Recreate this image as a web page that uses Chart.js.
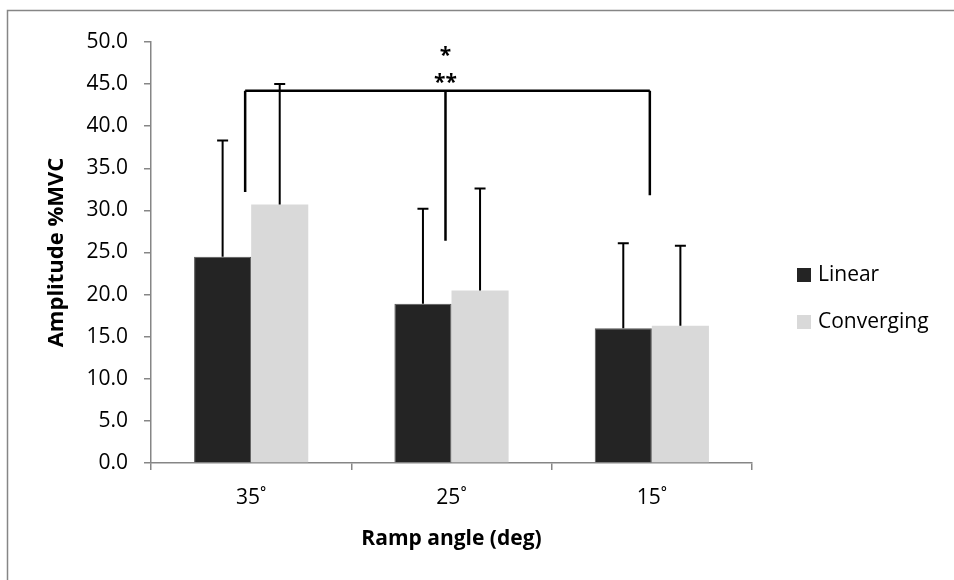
<!DOCTYPE html>
<html>
<head>
<meta charset="utf-8">
<script src="https://cdn.jsdelivr.net/npm/chart.js@4.4.1/dist/chart.umd.min.js"></script>
<style>
  html, body { margin: 0; padding: 0; background: #fff; overflow: hidden; }
  canvas { display: block; }
</style>
</head>
<body>
<canvas id="myChart" width="954" height="580"></canvas>
<script>
'use strict';

// ***** DATA *****
let categories = ['35˚', '25˚', '15˚'];
let linearMeans = [24.5, 18.9, 16.0];
let convergingMeans = [30.7, 20.5, 16.3];
let linearErrTop = [38.3, 30.2, 26.1];
let convergingErrTop = [45.0, 32.6, 25.8];

// significance bracket (x in category units, y in %MVC)
let bracketX = [-0.03, 0.97, 1.99];
let bracketTop = 44.2;
let bracketEnds = [32.2, 26.4, 31.8];
let starLabels = ['*', '**'];
let starBaselines = [47.6, 44.4];

let fontName = '"Open Sans", "Liberation Sans", sans-serif';
let axisGrey = '#868686';

// **** PLUGINS ****
let frame = {
  id: 'frame',
  beforeDraw(chart) {
    let c = chart.ctx;
    c.save();
    c.fillStyle = '#fff';
    c.fillRect(0, 0, chart.width, chart.height);
    c.strokeStyle = axisGrey;
    c.lineWidth = 1.5;
    c.beginPath();
    c.moveTo(7.5, chart.height + 5);
    c.lineTo(7.5, 10.5);
    c.lineTo(chart.width + 5, 10.5);
    c.stroke();
    c.restore();
  }
};

let errorBars = {
  id: 'errorBars',
  afterDatasetsDraw(chart) {
    let c = chart.ctx;
    let ys = chart.scales.y;
    let tops = [linearErrTop, convergingErrTop];
    c.save();
    c.strokeStyle = '#000';
    c.lineWidth = 2;
    for (let d = 0; d < chart.data.datasets.length; d++) {
      let meta = chart.getDatasetMeta(d);
      for (let i = 0; i < meta.data.length; i++) {
        let bar = meta.data[i];
        let yTop = ys.getPixelForValue(tops[d][i]);
        c.beginPath();
        c.moveTo(bar.x, bar.y);
        c.lineTo(bar.x, yTop);
        c.moveTo(bar.x - 5.5, yTop);
        c.lineTo(bar.x + 5.5, yTop);
        c.stroke();
      }
    }
    c.restore();
  }
};

let bracket = {
  id: 'bracket',
  afterDatasetsDraw(chart) {
    let c = chart.ctx;
    let xs = chart.scales.x;
    let ys = chart.scales.y;
    let x0 = xs.getPixelForValue(0);
    let w = xs.getPixelForValue(1) - x0;
    let px = bracketX.map(v => x0 + v * w);
    let top = ys.getPixelForValue(bracketTop);
    c.save();
    c.strokeStyle = '#000';
    c.lineWidth = 2.5;
    c.beginPath();
    c.moveTo(px[0], top);
    c.lineTo(px[2], top);
    for (let i = 0; i < px.length; i++) {
      c.moveTo(px[i], top);
      c.lineTo(px[i], ys.getPixelForValue(bracketEnds[i]));
    }
    c.stroke();
    c.fillStyle = '#000';
    c.font = 'bold 21px ' + fontName;
    c.textAlign = 'center';
    c.textBaseline = 'alphabetic';
    for (let i = 0; i < starLabels.length; i++) {
      c.fillText(starLabels[i], px[1], ys.getPixelForValue(starBaselines[i]));
    }
    c.restore();
  }
};

let sideLegend = {
  id: 'sideLegend',
  afterDraw(chart) {
    let c = chart.ctx;
    let sets = chart.data.datasets;
    c.save();
    c.font = '21px ' + fontName;
    c.textBaseline = 'middle';
    c.textAlign = 'left';
    for (let i = 0; i < sets.length; i++) {
      let yMid = 275 + i * 47;
      c.fillStyle = sets[i].backgroundColor;
      c.fillRect(797, yMid - 7, 14, 14);
      c.fillStyle = '#000';
      c.fillText(sets[i].label, 818, yMid);
    }
    c.restore();
  }
};

// **** CHART ****
let ctx = document.getElementById('myChart');

new Chart(ctx, {
  type: 'bar',
  data: {
    labels: categories,
    datasets: [
      {
        label: 'Linear',
        data: linearMeans,
        backgroundColor: '#242424',
        borderColor: '#555',
        borderWidth: 1,
        categoryPercentage: 0.57,
        barPercentage: 1
      },
      {
        label: 'Converging',
        data: convergingMeans,
        backgroundColor: '#d9d9d9',
        borderWidth: 0,
        categoryPercentage: 0.57,
        barPercentage: 1
      }
    ]
  },
  options: {
    responsive: false,
    animation: false,
    devicePixelRatio: 1,
    layout: { padding: { left: 0, right: 202, top: 42, bottom: 0 } },
    plugins: {
      legend: { display: false },
      tooltip: { enabled: false }
    },
    scales: {
      x: {
        grid: { offset: true, drawOnChartArea: false, color: axisGrey, tickLength: 7, lineWidth: 1.5 },
        border: { color: axisGrey, width: 1.5 },
        ticks: { color: '#000', font: { family: fontName, size: 21 }, padding: 15 },
        title: {
          display: true,
          text: 'Ramp angle (deg)',
          color: '#000',
          font: { family: fontName, size: 21, weight: 'bold' },
          padding: { top: 14, bottom: 28 }
        },
        afterFit(scale) { scale.height = 117; }
      },
      y: {
        min: 0,
        max: 50,
        grid: { drawOnChartArea: false, color: axisGrey, tickLength: 7, lineWidth: 1.5 },
        border: { color: axisGrey, width: 1.5 },
        ticks: {
          stepSize: 5,
          color: '#000',
          font: { family: fontName, size: 21 },
          padding: 16,
          callback: v => v.toFixed(1)
        },
        title: {
          display: true,
          text: 'Amplitude %MVC',
          color: '#000',
          font: { family: fontName, size: 22, weight: 'bold' },
          padding: { top: 44, bottom: 6 }
        },
        afterFit(scale) { scale.width = 151; }
      }
    }
  },
  plugins: [frame, errorBars, bracket, sideLegend]
});
</script>
</body>
</html>
